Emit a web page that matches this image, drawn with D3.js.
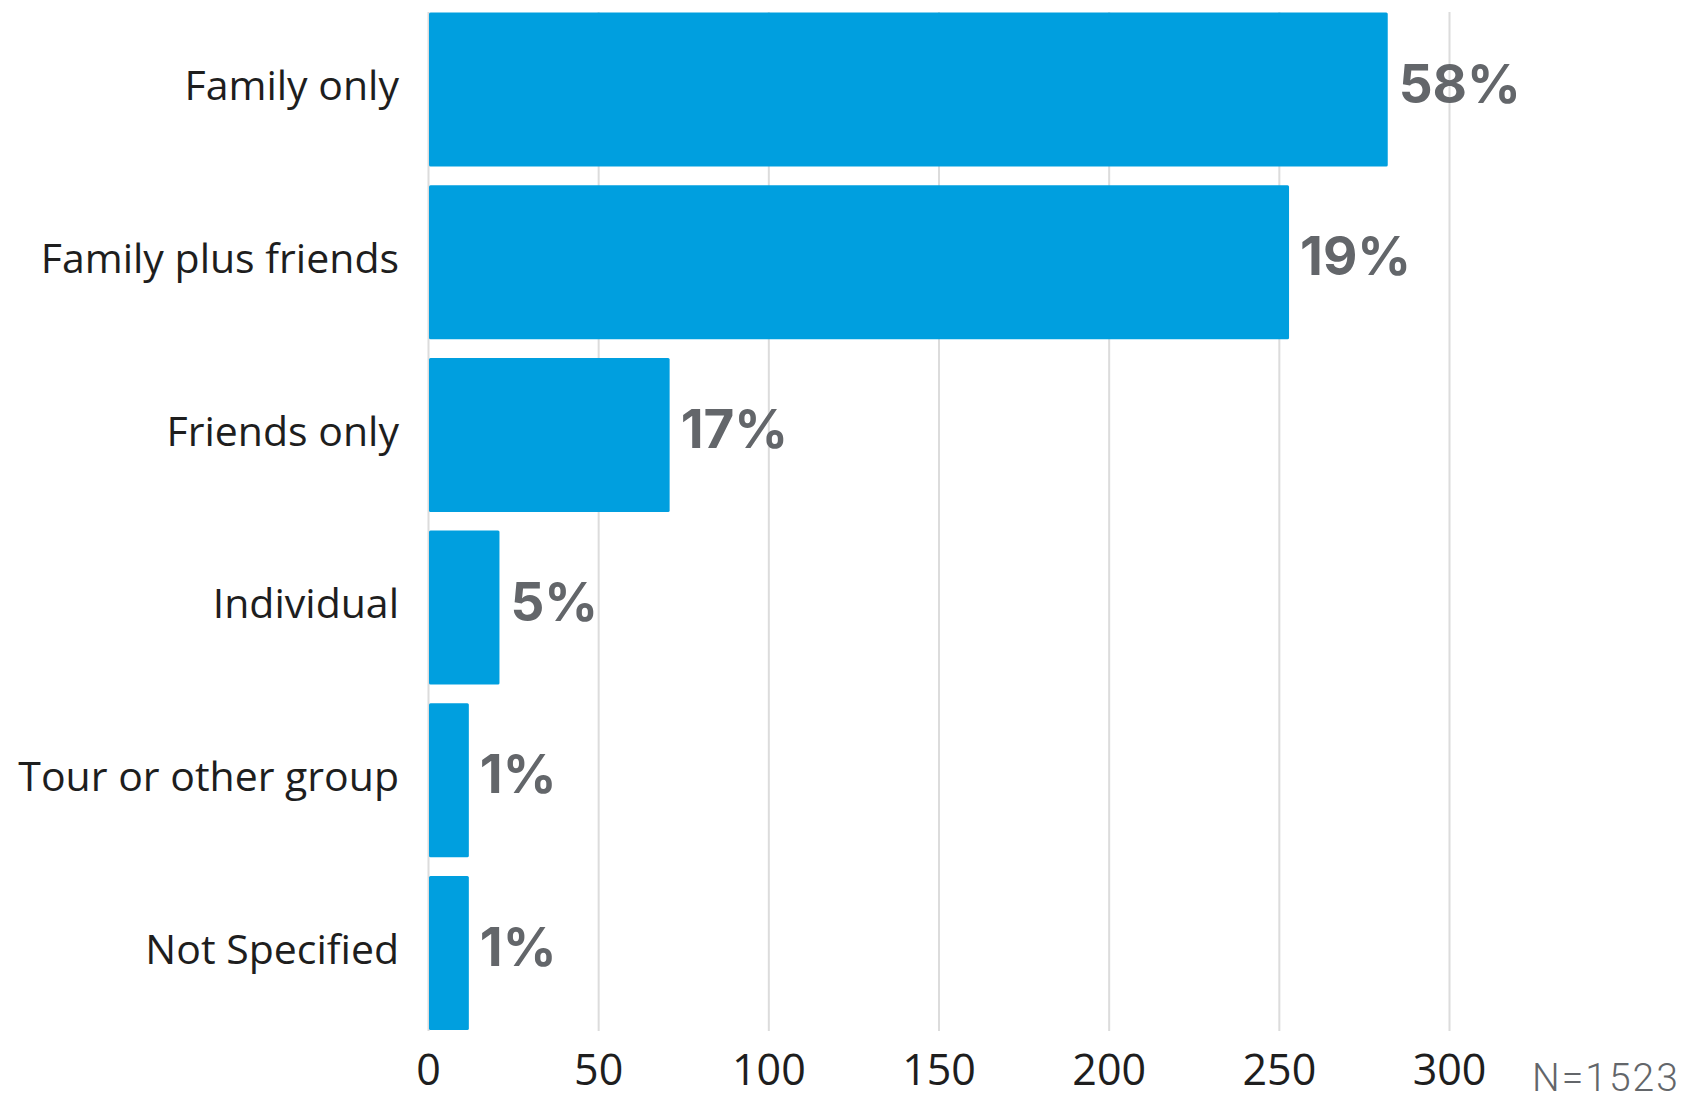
<!DOCTYPE html>
<html>
<head>
<meta charset="utf-8">
<script src="https://cdn.jsdelivr.net/npm/d3@7"></script>
<style>
  html, body { margin: 0; padding: 0; background: #ffffff; }
  svg { display: block; }
</style>
</head>
<body>
<svg id="chart" width="1683" height="1101"></svg>
<script>
// Travel party composition
const categories = ["Family only", "Family plus friends", "Friends only", "Individual", "Tour or other group", "Not Specified"];
const counts = [282, 253, 71, 21, 12, 12];
const shareLabels = ["58%", "19%", "17%", "5%", "1%", "1%"];
const xTicks = [0, 50, 100, 150, 200, 250, 300];
const sampleNote = "N=1523";

const svg = d3.select("#chart");

const plotLeft = 428, plotRight = 1449;
const plotTop = 12, plotBottom = 1031;

const x = d3.scaleLinear().domain([0, 300]).range([plotLeft, plotRight]);
const y = d3.scaleBand()
  .domain(categories)
  .range([3.2, 1039.3])
  .paddingInner(0.108)
  .paddingOuter(0.054);

// Vertical gridlines and bottom tick labels
const xAxis = svg.append("g")
  .attr("transform", `translate(0,${plotBottom})`)
  .call(d3.axisBottom(x).tickValues(xTicks).tickSize(-(plotBottom - plotTop)).tickPadding(0));
xAxis.select(".domain").remove();
xAxis.selectAll(".tick line").attr("stroke", "#dcdcdc").attr("stroke-width", 2);
xAxis.selectAll(".tick text")
  .attr("y", 54)
  .attr("dy", 0)
  .attr("fill", "#1e1e1e")
  .style("font-family", "'Open Sans', sans-serif")
  .style("font-size", "43px");

// Bars
svg.append("g").selectAll("rect")
  .data(categories)
  .join("rect")
  .attr("x", x(0) + 1)
  .attr("y", d => y(d))
  .attr("width", (d, i) => x(counts[i]) - x(0) - 1)
  .attr("height", y.bandwidth())
  .attr("rx", 1.5)
  .attr("fill", "#009fdf");

// Category labels
const yAxis = svg.append("g")
  .attr("transform", `translate(${plotLeft},0)`)
  .call(d3.axisLeft(y).tickSize(0).tickPadding(29));
yAxis.select(".domain").remove();
yAxis.selectAll(".tick text")
  .attr("dy", "0.26em")
  .attr("fill", "#1e1e1e")
  .style("font-family", "'Open Sans', sans-serif")
  .style("font-size", "41px");

// Share labels at bar ends
svg.append("g").selectAll("text")
  .data(categories)
  .join("text")
  .attr("x", (d, i) => x(counts[i]) + 11)
  .attr("y", d => y(d) + y.bandwidth() / 2 + 13)
  .attr("fill", "#63666a")
  .style("font-family", "Inter, sans-serif")
  .style("font-weight", 700)
  .style("font-size", "53px")
  .text((d, i) => shareLabels[i]);

// Sample size note
svg.append("text")
  .attr("x", 1532)
  .attr("y", 1091)
  .attr("fill", "#63666a")
  .style("font-family", "Roboto, sans-serif")
  .style("font-weight", 300)
  .style("font-size", "39px")
  .style("letter-spacing", "2px")
  .text(sampleNote);
</script>
</body>
</html>
